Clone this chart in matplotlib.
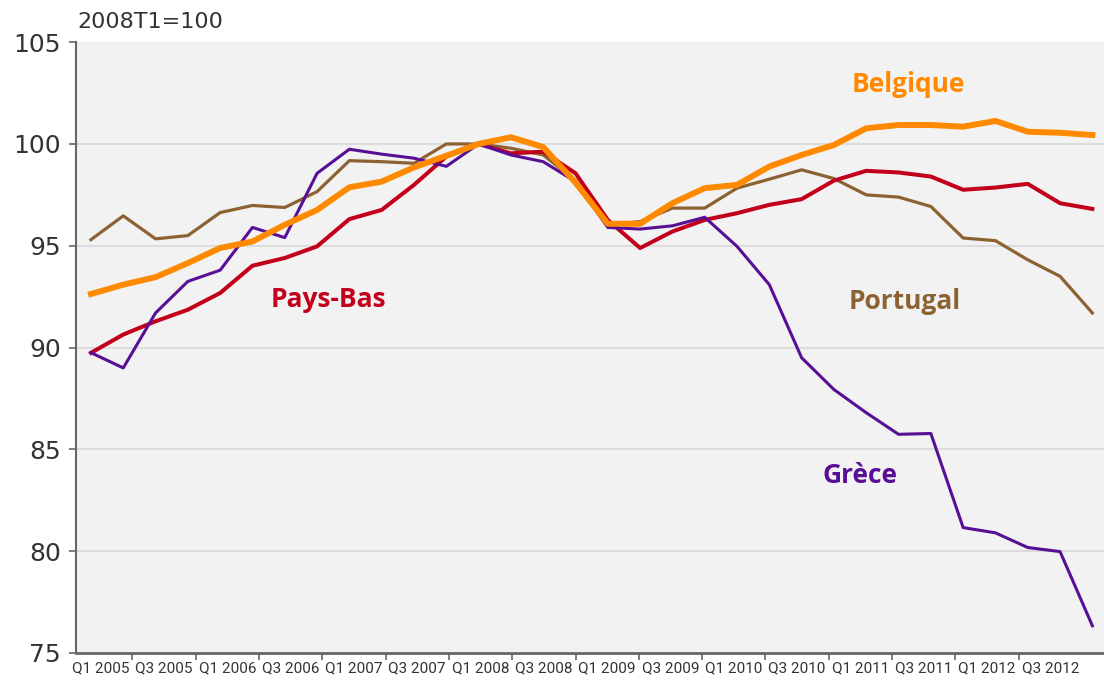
import numpy as np
import matplotlib
matplotlib.use("Agg")
import matplotlib.pyplot as plt
from matplotlib import font_manager

# trimestres Q1 2005 .. Q4 2012
quarters = [f"Q{q} {y}" for y in range(2005, 2013) for q in range(1, 5)]
tick_labels = quarters[::2]

belgique = [92.63, 93.09, 93.46, 94.15, 94.89, 95.21, 96.03, 96.76, 97.87, 98.15, 98.85, 99.42,
            100.0, 100.33, 99.85, 98.1, 96.08, 96.08, 97.09, 97.83, 97.99, 98.89, 99.46, 99.95,
            100.77, 100.93, 100.93, 100.85, 101.13, 100.6, 100.55, 100.44]
pays_bas = [89.74, 90.64, 91.29, 91.86, 92.68, 94.02, 94.4, 94.97, 96.31, 96.76, 97.99, 99.38,
            100.0, 99.54, 99.62, 98.56, 96.27, 94.89, 95.7, 96.27, 96.6, 97.01, 97.29, 98.2,
            98.68, 98.6, 98.4, 97.75, 97.86, 98.04, 97.09, 96.81]
portugal = [95.3, 96.47, 95.34, 95.5, 96.63, 96.98, 96.88, 97.66, 99.18, 99.13, 99.05, 100.0,
            100.0, 99.79, 99.46, 98.2, 96.03, 96.19, 96.85, 96.85, 97.83, 98.27, 98.73, 98.3,
            97.5, 97.39, 96.93, 95.38, 95.25, 94.31, 93.5, 91.7]
grece = [89.75, 89.0, 91.7, 93.25, 93.8, 95.9, 95.4, 98.56, 99.74, 99.5, 99.3, 98.9,
         100.0, 99.46, 99.13, 98.15, 95.9, 95.82, 95.98, 96.4, 94.97, 93.09, 89.5, 87.94,
         86.8, 85.74, 85.78, 81.16, 80.9, 80.18, 79.98, 76.34]

c_bel = "#ff8a00"
c_pb = "#c3001c"
c_por = "#8d6233"
c_gr = "#580f96"

# police étroite pour les trimestres si dispo
names = {f.name for f in font_manager.fontManager.ttflist}
if "Liberation Sans Narrow" in names:
    xfont, xsize = "Liberation Sans Narrow", 12
else:
    xfont, xsize = "Roboto", 11

x = np.arange(len(quarters))

fig = plt.figure(figsize=(11.04, 6.91), dpi=100)
ax = fig.add_axes([0.0688, 0.055, 0.9312, 0.884])
ax.set_facecolor("#f2f2f2")

# grille horizontale
for v in [80, 85, 90, 95, 100]:
    ax.axhline(v, color="#dcdcdc", lw=1.5, zorder=1)

ax.plot(x, portugal, color=c_por, lw=2.3, zorder=3)
ax.plot(x, pays_bas, color=c_pb, lw=2.9, zorder=4)
ax.plot(x, grece, color=c_gr, lw=2.2, zorder=5)
ax.plot(x, belgique, color=c_bel, lw=4.3, zorder=6)

ax.set_xlim(-0.464, 31.36)
ax.set_ylim(75, 105)

# axe y
ax.set_yticks([75, 80, 85, 90, 95, 100, 105])
ax.tick_params(axis="y", direction="out", length=5, width=1.2, color="#666666",
               labelsize=18, labelcolor="#333333", pad=6)

# axe x : libellés tous les 2 trimestres, traits entre les libellés
lab_pos = np.linspace(0.3, 29.7, len(tick_labels))
tick_pos = (lab_pos[:-1] + lab_pos[1:]) / 2
ax.set_xticks(tick_pos)
ax.set_xticklabels([])
ax.set_xticks(lab_pos, minor=True)
ax.set_xticklabels(tick_labels, minor=True, family=[xfont, "DejaVu Sans"],
                   fontsize=xsize, color="#333333")
ax.tick_params(axis="x", which="major", direction="out", length=5, width=1.2, color="#666666")
ax.tick_params(axis="x", which="minor", length=0, pad=6)

for s in ["top", "right"]:
    ax.spines[s].set_visible(False)
ax.spines["left"].set_color("#666666")
ax.spines["left"].set_linewidth(1.5)
ax.spines["bottom"].set_color("#666666")
ax.spines["bottom"].set_linewidth(2)

fig.text(0.0697, 0.968, "2008T1=100", fontsize=16, color="#333333", va="center", ha="left")

# étiquettes des séries
lab_font = dict(family=["Open Sans", "DejaVu Sans"], fontsize=19, fontweight="bold",
                ha="center", va="center")
ax.text(25.3, 102.9, "Belgique", color=c_bel, **lab_font)
ax.text(7.34, 92.35, "Pays-Bas", color=c_pb, **lab_font)
ax.text(25.2, 92.25, "Portugal", color=c_por, **lab_font)
ax.text(23.8, 83.7, "Grèce", color=c_gr, **lab_font)

fig.savefig("out.png", dpi=100)
